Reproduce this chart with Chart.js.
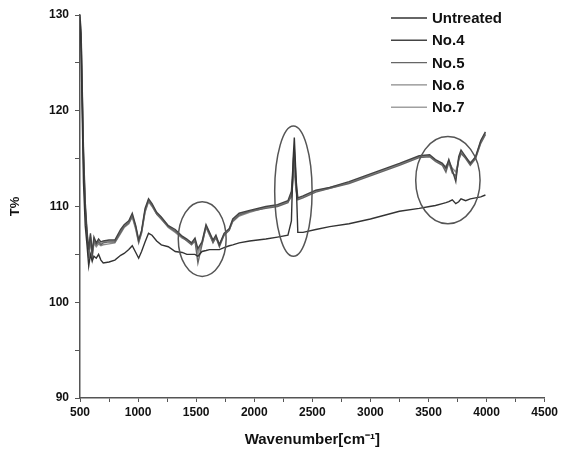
<!DOCTYPE html>
<html>
<head>
<meta charset="utf-8">
<script src="https://cdn.jsdelivr.net/npm/chart.js@4.4.1/dist/chart.umd.min.js"></script>
<style>
  html, body { margin: 0; padding: 0; background: #fff; }
  #wrap { width: 561px; height: 462px; position: relative; }
</style>
</head>
<body>
<div id="wrap"><canvas id="ftirChart"></canvas></div>
<script>
// wavenumbers (cm-1) shared by every spectrum
const wavenumbers = [500, 510, 520, 530, 545, 560, 575, 590, 605, 620, 640, 660, 680, 700, 750,
  800, 850, 880, 920, 950, 980, 1005, 1030, 1060, 1090, 1120, 1160, 1200, 1260, 1320,
  1380, 1420, 1460, 1490, 1515, 1550, 1585, 1615, 1645, 1670, 1700, 1740, 1785, 1815, 1870,
  1960, 2100, 2200, 2290, 2320, 2335, 2345, 2360, 2375, 2420, 2530, 2650, 2816, 3000, 3250,
  3420, 3510, 3560, 3620, 3650, 3675, 3705, 3735, 3760, 3780, 3820, 3860, 3905, 3950, 3990];

const untreated = [129.5, 126, 119, 112.5, 108.0, 106.0, 103.8, 105.0, 104.3, 104.8, 104.6, 105.0, 104.4, 104.1, 104.2,
  104.4, 104.9, 105.1, 105.5, 105.9, 105.2, 104.6, 105.3, 106.3, 107.2, 107.0, 106.4, 106.0, 105.8, 105.3,
  105.2, 105.0, 105.0, 105.0, 104.8, 105.3, 105.4, 105.5, 105.5, 105.5, 105.5, 105.7, 105.9, 106.0, 106.2,
  106.4, 106.6, 106.8, 107.0, 108.5, 115.0, 117.2, 113.0, 107.3, 107.3, 107.6, 107.9, 108.2, 108.7, 109.5,
  109.8, 110.0, 110.1, 110.3, 110.4, 110.5, 110.7, 110.3, 110.5, 110.8, 110.6, 110.8, 110.9, 111.0, 111.2];

const no4 = [130, 128, 122, 116, 110.5, 107.5, 105.5, 107.2, 105.2, 106.8, 106.2, 106.6, 106.3, 106.4, 106.5,
  106.5, 107.6, 108.1, 108.5, 109.3, 108.0, 106.5, 107.5, 109.8, 110.8, 110.3, 109.4, 108.9, 108.0, 107.6,
  106.9, 106.6, 106.2, 106.7, 105.6, 106.3, 108.1, 107.3, 106.5, 107.0, 106.0, 107.2, 107.7, 108.7, 109.3,
  109.6, 110.0, 110.2, 110.6, 111.6, 114.5, 116.0, 112.8, 110.9, 111.1, 111.7, 112.0, 112.6, 113.4, 114.5,
  115.3, 115.4, 114.9, 114.5, 114.0, 114.9, 113.8, 112.6, 115.2, 115.9, 115.2, 114.5, 115.2, 116.9, 117.8];

const no5 = [129.8, 127.5, 121.5, 115.5, 110, 107.2, 104.6, 106.8, 104.9, 106.4, 106.0, 106.3, 106.0, 106.2, 106.3,
  106.3, 107.3, 107.9, 108.3, 109.0, 107.8, 106.3, 107.3, 109.5, 110.6, 110.1, 109.2, 108.7, 107.9, 107.4,
  106.8, 106.4, 106.0, 106.4, 104.1, 106.0, 107.9, 107.1, 106.2, 106.8, 105.8, 107.0, 107.5, 108.5, 109.1,
  109.5, 109.8, 110.0, 110.4, 111.2, 113.6, 115.0, 112.0, 110.7, 110.9, 111.5, 111.9, 112.4, 113.2, 114.3,
  115.1, 115.2, 114.7, 114.3, 113.6, 114.6, 113.5, 113.2, 114.8, 115.6, 115.0, 114.3, 115.0, 116.6, 117.5];

const no6 = [129.2, 126.8, 120.5, 114.5, 109.5, 107.0, 105.0, 106.5, 104.6, 106.2, 105.8, 106.1, 105.9, 106.0, 106.1,
  106.2, 107.2, 107.8, 108.2, 108.9, 107.6, 106.2, 107.2, 109.4, 110.5, 110.0, 109.2, 108.7, 107.8, 107.3,
  106.7, 106.5, 106.1, 106.5, 105.3, 106.1, 107.8, 107.0, 106.3, 106.7, 106.1, 107.0, 107.6, 108.4, 109.0,
  109.4, 109.9, 110.1, 110.5, 111.0, 112.8, 113.8, 111.6, 110.8, 111.0, 111.6, 111.9, 112.5, 113.3, 114.4,
  115.2, 115.3, 114.8, 114.4, 114.2, 114.7, 114.0, 113.6, 114.9, 115.5, 115.1, 114.6, 115.1, 116.7, 117.6];

const no7 = [129.6, 127.2, 121, 115, 109.8, 107.3, 105.2, 107.0, 105.0, 106.6, 106.1, 106.4, 106.1, 106.3, 106.4,
  106.4, 107.4, 108.0, 108.4, 109.1, 107.9, 106.4, 107.4, 109.6, 110.7, 110.2, 109.3, 108.8, 108.0, 107.5,
  106.8, 106.5, 106.2, 106.6, 105.0, 106.2, 108.0, 107.2, 106.4, 106.9, 105.9, 107.1, 107.6, 108.6, 109.2,
  109.5, 109.9, 110.1, 110.5, 111.3, 113.2, 114.4, 112.2, 110.8, 111.0, 111.6, 112.0, 112.5, 113.3, 114.4,
  115.2, 115.3, 114.8, 114.4, 113.8, 114.8, 113.7, 112.9, 115.0, 115.7, 115.1, 114.4, 115.1, 116.8, 117.7];

const seriesNames = ["Untreated", "No.4", "No.5", "No.6", "No.7"];
const seriesValues = [untreated, no4, no5, no6, no7];
const seriesColors = ["#333333", "#444444", "#666666", "#8a8a8a", "#a0a0a0"];

// circled regions, in data units (wavenumber / T%)
const circleCenterX = [1552, 2337, 3667];
const circleCenterY = [106.6, 111.6, 112.75];
const circleRadiusX = [206, 161, 277];
const circleRadiusY = [3.9, 6.8, 4.55];

const FONT = "'Liberation Sans', Arial, sans-serif";

const datasets = seriesNames.map((name, i) => ({
  label: name,
  data: wavenumbers.map((w, j) => ({ x: w, y: seriesValues[i][j] })),
  borderColor: seriesColors[i],
  borderWidth: 1.4,
  pointRadius: 0,
  tension: 0,
  fill: false
}));

// draws the hand-drawn ellipses around the regions of interest
const circlesPlugin = {
  id: "circles",
  afterDatasetsDraw(chart) {
    const { ctx, scales: { x, y } } = chart;
    ctx.save();
    ctx.strokeStyle = "#555";
    ctx.lineWidth = 1.5;
    circleCenterX.forEach((cx, i) => {
      const px = x.getPixelForValue(cx);
      const py = y.getPixelForValue(circleCenterY[i]);
      const rx = Math.abs(x.getPixelForValue(cx + circleRadiusX[i]) - px);
      const ry = Math.abs(y.getPixelForValue(circleCenterY[i] + circleRadiusY[i]) - py);
      ctx.beginPath();
      ctx.ellipse(px, py, rx, ry, 0, 0, Math.PI * 2);
      ctx.stroke();
    });
    ctx.restore();
  }
};

// legend in the top right corner, like the original figure
const legendPlugin = {
  id: "cornerLegend",
  afterDraw(chart) {
    const ctx = chart.ctx;
    ctx.save();
    ctx.font = "bold 15px " + FONT;
    ctx.textBaseline = "middle";
    seriesNames.forEach((name, i) => {
      const yy = 18 + i * 22.3;
      ctx.strokeStyle = seriesColors[i];
      ctx.lineWidth = 1.4;
      ctx.beginPath();
      ctx.moveTo(391, yy);
      ctx.lineTo(427, yy);
      ctx.stroke();
      ctx.fillStyle = "#111";
      ctx.fillText(name, 432, yy + 1);
    });
    ctx.restore();
  }
};

new Chart(document.getElementById("ftirChart"), {
  type: "line",
  data: { datasets },
  options: {
    responsive: true,
    maintainAspectRatio: false,
    animation: false,
    layout: { padding: { top: 15, right: 15, left: 0, bottom: 0 } },
    plugins: { legend: { display: false }, tooltip: { enabled: false } },
    scales: {
      x: {
        type: "linear",
        min: 500,
        max: 4500,
        grid: { drawOnChartArea: false, color: "#555", tickLength: 4 },
        border: { color: "#555", width: 1.5 },
        ticks: {
          stepSize: 250,
          autoSkip: false,
          maxRotation: 0,
          padding: 3,
          color: "#111",
          font: { family: FONT, weight: "bold", size: 12 },
          callback: v => (v % 500 === 0 ? v : "")
        },
        title: {
          display: true,
          text: "Wavenumber[cm⁻¹]",
          color: "#111",
          font: { family: FONT, weight: "bold", size: 15 },
          padding: { top: 0, bottom: 13 }
        },
        afterFit: s => { s.height = 64; }
      },
      y: {
        min: 90,
        max: 130,
        grid: { drawOnChartArea: false, color: "#555", tickLength: 5 },
        border: { color: "#555", width: 1.5 },
        ticks: {
          stepSize: 5,
          autoSkip: false,
          padding: 6,
          color: "#111",
          font: { family: FONT, weight: "bold", size: 12 },
          callback: v => (v % 10 === 0 ? v : "")
        },
        title: {
          display: true,
          text: "T%",
          color: "#111",
          font: { family: FONT, weight: "bold", size: 13 },
          padding: { top: 8, bottom: 0 }
        },
        afterFit: s => { s.width = 80; }
      }
    }
  },
  plugins: [circlesPlugin, legendPlugin]
});
</script>
</body>
</html>
